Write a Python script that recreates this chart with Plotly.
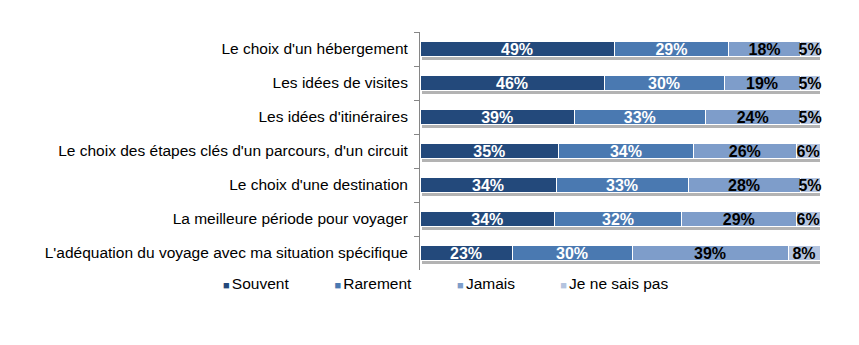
import plotly.graph_objects as go

categories = [
    "Le choix d'un hébergement",
    "Les idées de visites",
    "Les idées d'itinéraires",
    "Le choix des étapes clés d'un parcours, d'un circuit",
    "Le choix d'une destination",
    "La meilleure période pour voyager",
    "L'adéquation du voyage avec ma situation spécifique",
]
souvent = [49, 46, 39, 35, 34, 34, 23]
rarement = [29, 30, 33, 34, 33, 32, 30]
jamais = [18, 19, 24, 26, 28, 29, 39]
nsp = [5, 5, 5, 6, 5, 6, 8]

series = [
    ("Souvent", souvent, "#23497b", "white"),
    ("Rarement", rarement, "#4a79b1", "white"),
    ("Jamais", jamais, "#7e9dca", "black"),
    ("Je ne sais pas", nsp, "#b4c4df", "black"),
]
totals = [a + b + c + d for a, b, c, d in zip(souvent, rarement, jamais, nsp)]

FONT = "Liberation Sans, Arial"
BAR_W = 0.45

fig = go.Figure()
# soft shadow under each bar (drawn on the underlying subplot)
fig.add_trace(go.Bar(
    y=categories, x=totals, orientation="h", xaxis="x", yaxis="y",
    width=BAR_W, offset=-BAR_W / 2 + 0.1,
    marker=dict(color="#b3b3b3", line=dict(width=0)),
    showlegend=False, hoverinfo="skip",
))
for name, vals, color, tcolor in series:
    fig.add_trace(go.Bar(
        name=name, y=categories, x=vals, orientation="h",
        xaxis="x2", yaxis="y2",
        marker=dict(color=color, line=dict(color="white", width=1)),
        text=[f"{v}%" for v in vals], textposition="inside",
        insidetextanchor="middle",
        textfont=dict(family=FONT, size=16, color=tcolor, weight="bold"),
        cliponaxis=False, width=BAR_W, showlegend=False,
    ))
# legend entries
for name, vals, color, tcolor in series:
    fig.add_trace(go.Scatter(
        name=f'<span style="color:{color};font-size:11px">■\u2009</span>{name}',
        x=[None], y=[None], mode="markers", xaxis="x2", yaxis="y2",
        marker=dict(size=1, color="rgba(0,0,0,0)"),
        showlegend=True,
    ))

fig.update_layout(
    barmode="stack", barnorm="percent",
    width=859, height=345,
    margin=dict(l=420, r=39, t=32, b=75),
    paper_bgcolor="white", plot_bgcolor="white",
    font=dict(family=FONT, size=15.5, color="black"),
    uniformtext=dict(minsize=16, mode="show"),
    showlegend=True,
    legend=dict(orientation="h", x=-0.5925, xanchor="left", y=-0.055, yanchor="middle",
                font=dict(size=15.5, color="black"), itemwidth=30,
                traceorder="normal", bgcolor="rgba(0,0,0,0)"),
    xaxis=dict(range=[-0.5, 99.5], visible=False, showgrid=False, zeroline=False),
    xaxis2=dict(range=[0, 100], visible=False, showgrid=False, zeroline=False,
                overlaying="x"),
    yaxis=dict(autorange="reversed", categoryorder="array", categoryarray=categories,
               showline=True, linecolor="#868686", linewidth=1,
               ticks="outside", tickson="boundaries", ticklen=5, tickcolor="#868686",
               showgrid=False, tickfont=dict(size=15.5, color="black"), ticklabelstandoff=8),
    yaxis2=dict(autorange="reversed", categoryorder="array", categoryarray=categories,
                overlaying="y", visible=False, showgrid=False),
)

fig.write_html("out.html")
